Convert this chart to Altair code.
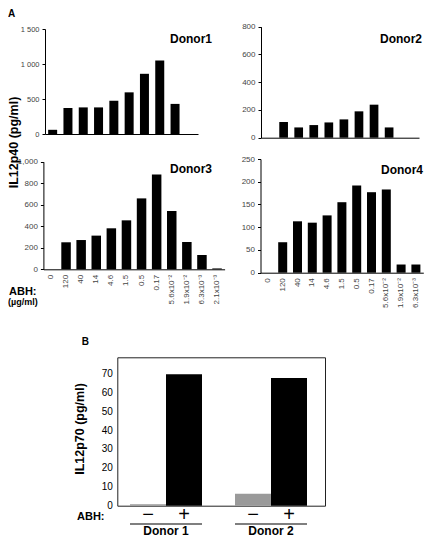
import altair as alt
import pandas as pd

FONT = "Liberation Sans"

# ---------------- data ----------------
conc = ["0", "120", "40", "14", "4.6", "1.5", "0.5", "0.17",
        "5.6x10\u207b\u00b2", "1.9x10\u207b\u00b2", "6.3x10\u207b\u00b3", "2.1x10\u207b\u00b3"]
donor1 = [60, 370, 380, 380, 475, 595, 860, 1050, 430]
donor2 = [0, 113, 74, 91, 110, 132, 190, 238, 74]
donor3 = [0, 251, 272, 313, 381, 455, 659, 882, 542, 254, 133, 8]
donor4 = [0, 67, 113, 110, 126, 155, 192, 177, 183, 18, 18]

b_donor = ["Donor 1", "Donor 1", "Donor 2", "Donor 2"]
b_abh = ["\u2212", "+", "\u2212", "+"]
b_il12p70 = [0.8, 69.5, 6.3, 67.5]

W, H = 416, 530


def band_scale(domain, a, b, bar_start, step, bar_w):
    n = len(domain)
    p = 1 - bar_w / step
    o = ((b - a) / step - n + p) / 2
    left = 2 * o * step
    align = (bar_start - a) / left
    return alt.Scale(domain=domain, range=[a, b], paddingInner=p,
                     paddingOuter=o, align=align)


def lin_scale(domain, y0, y1):
    return alt.Scale(domain=domain, range=[y0, y1], nice=False, zero=True)


def y_axis(offset, values, size=8, **kw):
    return alt.Axis(orient="left", offset=offset, values=values, grid=False,
                    labelFontSize=size, labelColor="#444", labelFont=FONT,
                    tickSize=3, tickColor="black", domainColor="black",
                    labelPadding=3, **kw)


def x_axis(offset, labels):
    if labels:
        return alt.Axis(orient="bottom", offset=offset, labels=True, ticks=False,
                        tickSize=0, title=None, domainColor="black", grid=False,
                        labelAngle=270, labelAlign="right", labelBaseline="middle",
                        labelPadding=5, labelFontSize=8, labelColor="#444",
                        labelFont=FONT, labelOverlap=False)
    return alt.Axis(orient="bottom", offset=offset, labels=False, ticks=False,
                    tickSize=0, title=None, domainColor="black", grid=False)


def donor_panel(values, domain, xs, ys, xa, ya):
    df = pd.DataFrame({"conc": conc[:len(values)], "v": values})
    return alt.Chart(df).mark_bar(color="black").encode(
        x=alt.X("conc:N", scale=xs, axis=xa),
        y=alt.Y("v:Q", scale=ys, axis=ya),
    )


def label(text, x, y, size, weight="bold", align="left", color="black"):
    return alt.Chart(alt.Data(values=[{}])).mark_text(
        text=text, fontSize=size, fontWeight=weight, align=align,
        baseline="alphabetic", color=color, font=FONT,
    ).encode(x=alt.value(x), y=alt.value(y))


# ---------------- panel A ----------------
d1 = donor_panel(
    donor1, conc[:10],
    band_scale(conc[:10], 37, 190, 37 + 3.15, 15.3, 9),
    lin_scale([0, 1500], 126, 21),
    x_axis(126 - H, False),
    y_axis(-37, [0, 500, 1000, 1500], size=7.5,
           labelExpr="datum.value >= 1000 ? replace(format(datum.value, ','), ',', ' ') : datum.label",
           title="IL12p40 (pg/ml)", titleFontSize=12.5, titleFontWeight="bold",
           titleFont=FONT, titleColor="black", titleX=-25, titleY=134,
           titleAngle=270, titleAlign="center", titleBaseline="bottom"),
)
d2 = donor_panel(
    donor2, conc[:10],
    band_scale(conc[:10], 253, 411, 253 + 3.2, 15.07, 8.7),
    lin_scale([0, 800], 129.7, 18.7),
    x_axis(129.7 - H, False),
    y_axis(-253, [0, 200, 400, 600, 800], title=None),
)
d3 = donor_panel(
    donor3, conc,
    band_scale(conc, 35.4, 35.4 + 12 * 15.1, 35.4 + 2.8, 15.1, 9.5),
    lin_scale([0, 1000], 261.3, 153.7),
    x_axis(261.3 - H, True),
    y_axis(-35.4, [0, 200, 400, 600, 800, 1000], title=None),
)
d4 = donor_panel(
    donor4, conc[:11],
    band_scale(conc[:11], 252.5, 252.5 + 11 * 14.8, 252.5 + 2.9, 14.8, 9),
    lin_scale([0, 250], 264.7, 151),
    x_axis(264.7 - H, True),
    y_axis(-252.5, [0, 50, 100, 150, 200, 250], title=None),
)

# ---------------- panel B ----------------
B_BOTTOM, B_TOP = 497.7, 349.3
bdf = pd.DataFrame({"donor": b_donor, "abh": b_abh, "v": b_il12p70})
donors_b = ["Donor 1", "Donor 2"]
Bx = band_scale(donors_b, 109.3, 317, 122, 105, 72)
By = lin_scale([0, 78.5], B_BOTTOM, B_TOP)
Boff = alt.Scale(domain=["\u2212", "+"], paddingInner=0, paddingOuter=0)
Boff_pt = alt.Scale(type="point", domain=["\u2212", "+"], padding=0.5)

b_minus = alt.Chart(bdf).transform_filter(alt.datum.abh == "\u2212").mark_bar(color="#9a9a9a").encode(
    x=alt.X("donor:N", scale=Bx, axis=alt.Axis(
        orient="bottom", offset=B_BOTTOM - H, ticks=False, tickSize=0, title=None,
        domainColor="#222", labelFontSize=12, labelFontWeight="bold", labelColor="black",
        labelFont=FONT, labelPadding=526 - B_BOTTOM, labelBaseline="alphabetic", labelAngle=0,
        grid=False)),
    xOffset=alt.XOffset("abh:N", scale=Boff),
    y=alt.Y("v:Q", scale=By, axis=alt.Axis(
        orient="left", offset=-109.3, values=[0, 10, 20, 30, 40, 50, 60, 70],
        ticks=False, tickSize=0, labelPadding=5, labelFontSize=10, labelColor="black",
        labelFont=FONT, domainColor="#222", grid=False,
        title="IL12p70 (pg/ml)", titleFontSize=12.5, titleFontWeight="bold",
        titleFont=FONT, titleColor="black", titleX=-31, titleY=420.5,
        titleAngle=270, titleAlign="center", titleBaseline="bottom")),
)
b_plus = alt.Chart(bdf).transform_filter(alt.datum.abh == "+").mark_bar(color="black").encode(
    x=alt.X("donor:N", scale=Bx, axis=alt.Axis(
        orient="top", offset=-B_TOP, labels=False, ticks=False, tickSize=0,
        title=None, domainColor="#222", grid=False)),
    xOffset=alt.XOffset("abh:N", scale=Boff),
    y=alt.Y("v:Q", scale=By, axis=alt.Axis(
        orient="right", offset=317 - W, labels=False, ticks=False, tickSize=0,
        title=None, domainColor="#222", grid=False)),
)
b_signs = alt.Chart(bdf).mark_text(fontSize=20, baseline="middle", align="center",
                                   font=FONT, color="black").encode(
    x=alt.X("donor:N", scale=Bx, axis=None),
    xOffset=alt.XOffset("abh:N", scale=Boff_pt),
    y=alt.value(507),
    text="abh:N",
)
b_under = alt.Chart(pd.DataFrame({"donor": donors_b})).mark_bar(color="black").encode(
    x=alt.X("donor:N", scale=Bx, axis=None),
    y=alt.value(515.5),
    y2=alt.value(516.5),
)

texts = [
    label("A", 0, 8.5, 10),
    label("B", 73.7, 337, 10),
    label("Donor1", 162, 35, 12),
    label("Donor2", 372, 35, 12),
    label("Donor3", 162, 165, 12),
    label("Donor4", 415, 166, 12, align="right"),
    label("ABH:", 1, 287, 11),
    label("(\u00b5g/ml)", 0, 297, 9),
    label("ABH:", 69, 512, 11),
]

chart = alt.layer(d1, d2, d3, d4, b_minus, b_plus, b_signs, b_under, *texts).properties(
    width=W, height=H, padding=0,
    autosize=alt.AutoSizeParams(type="none"),
).resolve_scale(
    x="independent", y="independent", xOffset="independent"
).resolve_axis(
    x="independent", y="independent"
).configure_view(stroke=None).configure_axis(grid=False)

chart.save("out.html", embed_options={"renderer": "svg", "actions": False})
